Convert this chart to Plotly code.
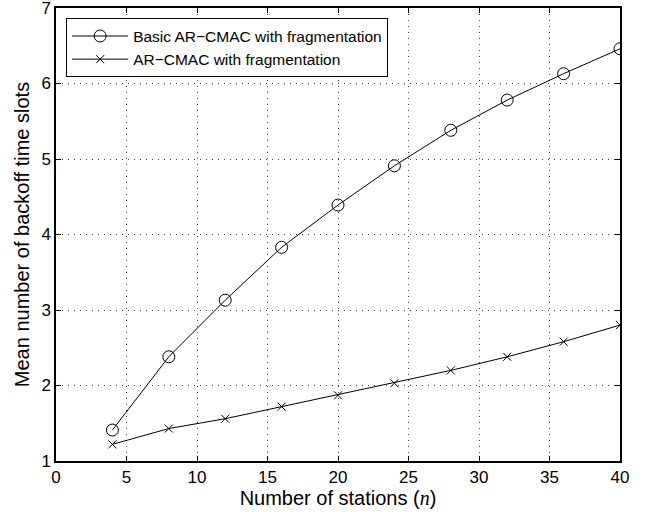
import plotly.graph_objects as go

# Number of stations
stations = [4, 8, 12, 16, 20, 24, 28, 32, 36, 40]

# Mean number of backoff time slots per scheme
basic_frag = [1.41, 2.38, 3.13, 3.83, 4.39, 4.91, 5.38, 5.78, 6.13, 6.46]
arcmac_frag = [1.22, 1.43, 1.56, 1.72, 1.87, 2.03, 2.20, 2.38, 2.58, 2.80]

x_ticks = [0, 5, 10, 15, 20, 25, 30, 35, 40]
y_ticks = [1, 2, 3, 4, 5, 6, 7]

SANS = "Liberation Sans, Arial"

fig = go.Figure()
fig.add_trace(go.Scatter(
    x=stations, y=basic_frag, mode="lines+markers",
    name="Basic AR\u2212CMAC with fragmentation",
    line=dict(color="black", width=1),
    marker=dict(symbol="circle-open", size=12, color="black", line=dict(width=1)),
))
fig.add_trace(go.Scatter(
    x=stations, y=arcmac_frag, mode="lines+markers",
    name="AR\u2212CMAC with fragmentation",
    line=dict(color="black", width=1),
    marker=dict(symbol="x-thin-open", size=8, color="black", line=dict(width=1, color="black")),
))

axis_common = dict(
    showline=True, linecolor="black", linewidth=1.5, mirror="ticks",
    ticks="inside", ticklen=5, tickcolor="black",
    automargin=False, ticklabeloverflow="allow",
    showgrid=True, gridcolor="#444", griddash="1px,5px", gridwidth=1,
    zeroline=False, tickfont=dict(family=SANS, size=17, color="black"),
)

fig.update_xaxes(
    range=[0, 40], tickvals=x_ticks, **axis_common,
    title=dict(text="Number of stations (<i><span style=\"font-family:'Liberation Serif'\">n</span></i>)",
               font=dict(family=SANS, size=20, color="black"), standoff=3),
)
fig.update_yaxes(
    range=[1, 7], tickvals=y_ticks, **axis_common,
    title=dict(text="Mean number of backoff time slots",
               font=dict(family=SANS, size=20, color="black"), standoff=6),
)

fig.update_layout(
    width=646, height=512,
    margin=dict(l=56, r=26, t=8, b=51),
    plot_bgcolor="white", paper_bgcolor="white",
    font=dict(family=SANS, color="black"),
    legend=dict(
        x=0.018, y=0.977, xanchor="left", yanchor="top",
        bgcolor="white", bordercolor="black", borderwidth=1,
        font=dict(family=SANS, size=15.5, color="black"), itemwidth=56,
        tracegroupgap=0,
    ),
    showlegend=True,
)

fig.write_html("out.html")
